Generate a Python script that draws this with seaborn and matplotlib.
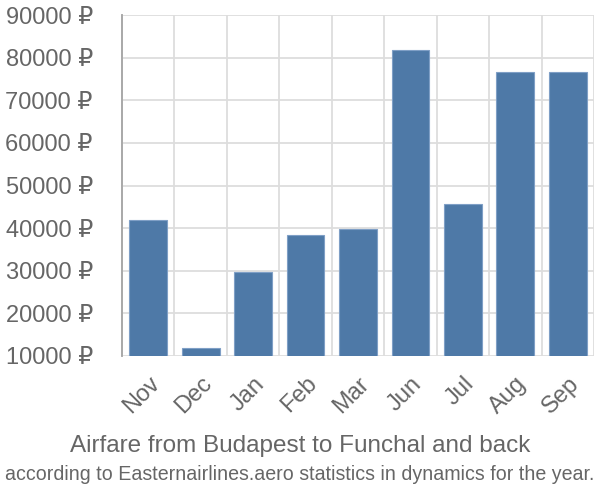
import matplotlib
matplotlib.use("Agg")
import matplotlib.pyplot as plt
import seaborn as sns
import numpy as np
import pandas as pd

months = ["Nov", "Dec", "Jan", "Feb", "Mar", "Jun", "Jul", "Aug", "Sep"]
prices = [41900, 11900, 29700, 38400, 39800, 81900, 45700, 76600, 76600]
yticks = [10000, 20000, 30000, 40000, 50000, 60000, 70000, 80000, 90000]
title = "Airfare from Budapest to Funchal and back"
subtitle = "according to Easternairlines.aero statistics in dynamics for the year."

sns.set_style("white")
plt.rcParams['font.family'] = ['Liberation Sans', 'DejaVu Sans']

df = pd.DataFrame({"month": months, "price": prices})

fig = plt.figure(figsize=(6, 5), dpi=100)
ax = fig.add_axes([122/600, 1-356/500, (594-122)/600, (356-15)/500])

sns.barplot(data=df, x="month", y="price", ax=ax, color="#4e79a7", saturation=1,
            width=0.72, edgecolor="#7f9fc6", linewidth=0.8, zorder=3)

ax.set_ylim(10000, 90000)
ax.set_xlim(-0.5, len(months) - 0.5)
ax.set_yticks(yticks)
ax.set_yticklabels([f"{v} ₽" for v in yticks], fontsize=17, color="#666666")
ax.set_xticks(range(len(months)))
ax.set_xticklabels(months, rotation=45, ha="right", va="top", rotation_mode="anchor",
                   fontsize=17, color="#666666")
ax.set_xticks(np.arange(-0.5, len(months)), minor=True)
ax.tick_params(axis="x", which="major", length=0, pad=12)
ax.tick_params(axis="x", which="minor", length=19, color="#dddddd", width=1.3)
ax.tick_params(axis="y", which="major", length=19, color="#dddddd", width=1.3, pad=2)

ax.grid(True, axis="y", color="#dddddd", linewidth=1.3, zorder=0)
ax.grid(True, axis="x", which="minor", color="#dddddd", linewidth=1.3, zorder=0)
ax.set_axisbelow(True)

for s in ["top", "right", "bottom"]:
    ax.spines[s].set_visible(False)
ax.spines["left"].set_color("#aaaaaa")
ax.spines["left"].set_linewidth(1.3)
ax.plot([-0.5, -0.5], [0, 1], transform=ax.get_xaxis_transform(), color="#aaaaaa",
        linewidth=1.3, zorder=4, clip_on=False)
ax.set_xlabel("")
ax.set_ylabel("")

fig.text(0.5, 1-446/500, title, ha="center", va="center", fontsize=17.5, color="#666666")
fig.text(0.5, 1-474/500, subtitle, ha="center", va="center", fontsize=14.1, color="#666666")

fig.savefig("out.png", dpi=100)
